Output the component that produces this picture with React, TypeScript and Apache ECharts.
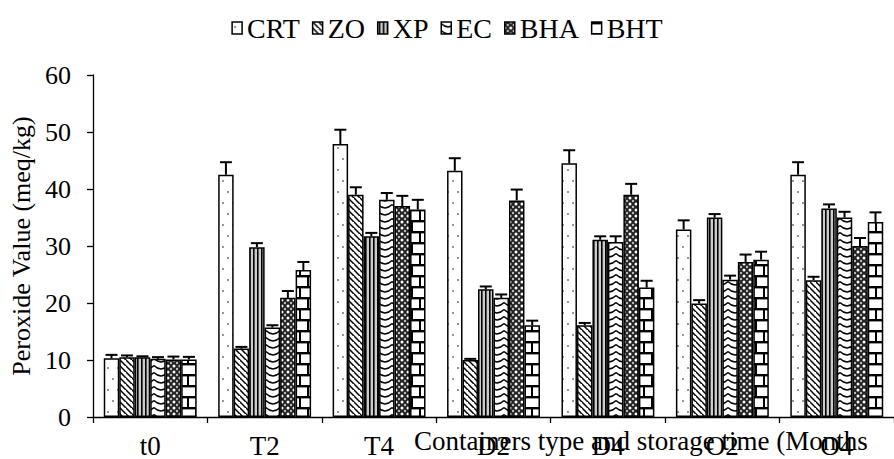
import React, { useEffect, useRef } from 'react';
import * as echarts from 'echarts';

const categories = ['t0', 'T2', 'T4', 'D2', 'D4', 'O2', 'O4'];
const seriesNames = ['CRT', 'ZO', 'XP', 'EC', 'BHA', 'BHT'];

const crtValues = [10.3, 42.5, 47.9, 43.2, 44.5, 32.9, 42.5];
const crtErrors = [0.6, 2.2, 2.5, 2.2, 2.3, 1.6, 2.2];
const zoValues = [10.5, 12.0, 39.0, 10.0, 16.1, 19.9, 24.0];
const zoErrors = [0.3, 0.3, 1.3, 0.2, 0.4, 0.6, 0.6];
const xpValues = [10.5, 29.8, 31.7, 22.4, 31.1, 35.0, 36.6];
const xpErrors = [0.15, 0.7, 0.6, 0.5, 0.6, 0.6, 0.7];
const ecValues = [10.2, 15.7, 38.1, 20.9, 30.7, 24.1, 35.0];
const ecErrors = [0.3, 0.4, 1.2, 0.6, 1.0, 0.7, 1.0];
const bhaValues = [10.1, 20.9, 37.0, 38.0, 39.0, 27.2, 30.0];
const bhaErrors = [0.5, 1.2, 1.8, 1.9, 1.9, 1.3, 1.4];
const bhtValues = [10.1, 25.8, 36.4, 16.1, 22.7, 27.6, 34.2];
const bhtErrors = [0.45, 1.4, 1.7, 0.8, 1.2, 1.4, 1.7];

const allValues = [crtValues, zoValues, xpValues, ecValues, bhaValues, bhtValues];
const allErrors = [crtErrors, zoErrors, xpErrors, ecErrors, bhaErrors, bhtErrors];

const yMin = 0;
const yMax = 60;
const yInterval = 10;

const yAxisTitle = 'Peroxide Value (meq/kg)';
const xAxisTitle = 'Containers type and storage time (Months';

const FONT = "'Liberation Serif', 'Times New Roman', serif";
const GAP_RATIO = 0.188;

function tile(w: number, h: number, body: string) {
  const svg = `<svg xmlns="http://www.w3.org/2000/svg" width="${w}" height="${h}">${body}</svg>`;
  return {
    image: 'data:image/svg+xml;charset=utf-8,' + encodeURIComponent(svg),
    repeat: 'repeat',
    imageWidth: w,
    imageHeight: h,
  };
}

const patterns = [
  tile(10, 22, '<rect width="10" height="22" fill="#fff"/><circle cx="3" cy="5" r="0.9" fill="#666"/><circle cx="8" cy="16" r="0.9" fill="#666"/>'),
  tile(6, 6, '<rect width="6" height="6" fill="#fff"/><path d="M-1,-1 L7,7 M-4,2 L2,8 M4,-4 L10,2" stroke="#000" stroke-width="1.5"/>'),
  tile(4, 4, '<rect width="4" height="4" fill="#ccc"/><rect x="1" width="1.6" height="4" fill="#000"/>'),
  tile(14, 7, '<rect width="14" height="7" fill="#fff"/><path d="M0,1.5 Q7,8.5 14,1.5" fill="none" stroke="#000" stroke-width="1.3"/>'),
  tile(6, 6, '<rect width="6" height="6" fill="#222"/><circle cx="0" cy="0" r="1.5" fill="#fff"/><circle cx="6" cy="0" r="1.5" fill="#fff"/><circle cx="0" cy="6" r="1.5" fill="#fff"/><circle cx="6" cy="6" r="1.5" fill="#fff"/><circle cx="3" cy="3" r="1.2" fill="#bbb"/>'),
  tile(16, 22, '<rect width="16" height="22" fill="#fff"/><rect y="0" width="16" height="2.4" fill="#000"/><rect y="11" width="16" height="2.4" fill="#000"/><rect x="11" y="0" width="2" height="11" fill="#000"/><rect x="3" y="11" width="2" height="11" fill="#000"/>'),
];

export default function App() {
  const ref = useRef<HTMLDivElement>(null);

  useEffect(() => {
    if (!ref.current) return;
    const chart = echarts.init(ref.current, undefined, { renderer: 'svg' });

    const barSeries = seriesNames.map((name, i) => ({
      name,
      type: 'bar',
      data: allValues[i],
      barGap: '0%',
      barCategoryGap: (GAP_RATIO * 100).toFixed(1) + '%',
      itemStyle: { color: patterns[i], borderColor: '#000', borderWidth: 1.5 },
      emphasis: { disabled: true },
    }));

    const errData: number[][] = [];
    seriesNames.forEach((_, si) => {
      allValues[si].forEach((v, ci) => {
        errData.push([ci, v, allErrors[si][ci], si]);
      });
    });

    const errSeries = {
      name: 'err',
      type: 'custom',
      z: 5,
      clip: false,
      data: errData,
      encode: { x: 0, y: 1 },
      renderItem: (params: any, api: any) => {
        const ci = api.value(0);
        const v = api.value(1);
        const e = api.value(2);
        const si = api.value(3);
        const band = api.size([1, 0])[0];
        const barW = (band * (1 - GAP_RATIO)) / seriesNames.length;
        const base = api.coord([ci, v]);
        const top = api.coord([ci, v + e]);
        const x = base[0] + (si - (seriesNames.length - 1) / 2) * barW;
        const cap = 6;
        return {
          type: 'group',
          children: [
            { type: 'line', shape: { x1: x, y1: base[1], x2: x, y2: top[1] }, style: { stroke: '#000', lineWidth: 2 } },
            { type: 'line', shape: { x1: x - cap, y1: top[1], x2: x + cap, y2: top[1] }, style: { stroke: '#000', lineWidth: 2 } },
          ],
        };
      },
    };

    chart.setOption({
      animation: false,
      backgroundColor: '#fff',
      textStyle: { fontFamily: FONT, color: '#000' },
      legend: {
        data: seriesNames,
        top: 9,
        left: 'center',
        icon: 'rect',
        itemWidth: 10,
        itemHeight: 12,
        itemGap: 12,
        itemStyle: { borderColor: '#000', borderWidth: 1.5 },
        textStyle: { fontFamily: FONT, fontSize: 28, color: '#000' },
        selectedMode: false,
      },
      grid: { left: 93, top: 75, width: 810.6, height: 343, containLabel: false },
      xAxis: {
        type: 'category',
        data: categories,
        boundaryGap: true,
        axisLine: { lineStyle: { color: '#000', width: 1.3 } },
        axisTick: { show: true, alignWithLabel: false, interval: 0, length: 6, lineStyle: { color: '#000', width: 1.3 } },
        axisLabel: { margin: 15, fontSize: 27, color: '#000', fontFamily: FONT, interval: 0 },
        splitLine: { show: false },
      },
      yAxis: {
        type: 'value',
        min: yMin,
        max: yMax,
        interval: yInterval,
        name: yAxisTitle,
        nameLocation: 'middle',
        nameGap: 58,
        nameTextStyle: { fontSize: 26, color: '#000', fontFamily: FONT },
        axisLine: { show: true, lineStyle: { color: '#000', width: 1.3 } },
        axisTick: { show: true, length: 6, lineStyle: { color: '#000', width: 1.3 } },
        axisLabel: { margin: 22, fontSize: 26, color: '#000', fontFamily: FONT },
        splitLine: { show: false },
      },
      graphic: [
        {
          type: 'text',
          left: 414,
          top: 427.5,
          z: 10,
          style: { text: xAxisTitle, fontSize: 27, fontFamily: FONT, fill: '#000' },
        },
      ],
      series: [...barSeries, errSeries],
    });

    return () => chart.dispose();
  }, []);

  return (
    <div
      ref={ref}
      style={{ position: 'fixed', left: 0, top: 0, width: 894, height: 459, background: '#fff' }}
    />
  );
}
